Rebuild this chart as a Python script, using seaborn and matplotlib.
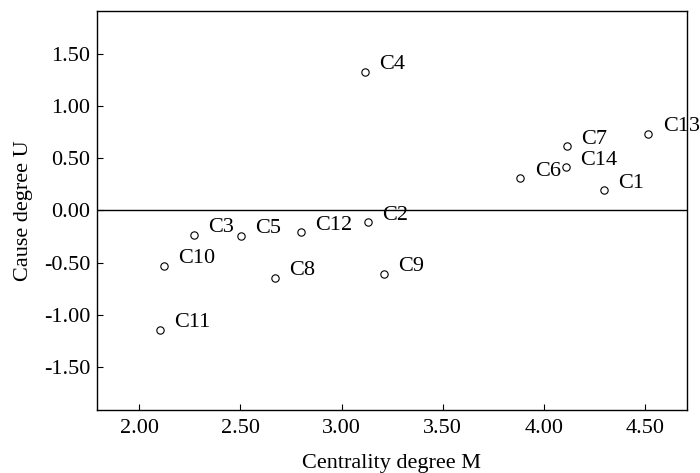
import matplotlib
matplotlib.use("Agg")
import matplotlib.pyplot as plt
import seaborn as sns
import pandas as pd

labels = ["C1", "C2", "C3", "C4", "C5", "C6", "C7", "C8", "C9", "C10", "C11", "C12", "C13", "C14"]
centrality = [4.297, 3.131, 2.270, 3.115, 2.501, 3.884, 4.115, 2.669, 3.209, 2.122, 2.102, 2.800, 4.517, 4.108]
cause = [0.194, -0.112, -0.236, 1.330, -0.242, 0.309, 0.614, -0.643, -0.605, -0.532, -1.140, -0.210, 0.735, 0.414]
xticks = [2.00, 2.50, 3.00, 3.50, 4.00, 4.50]
yticks = [-1.50, -1.00, -0.50, 0.00, 0.50, 1.00, 1.50]

sns.set_theme(style="ticks")
plt.rcParams["font.family"] = ["Liberation Serif", "DejaVu Serif"]

df = pd.DataFrame({"M": centrality, "U": cause, "label": labels})

fig = plt.figure(figsize=(7.0, 4.73), dpi=100)
ax = fig.add_axes([97 / 700, 1 - 410.5 / 473, (687 - 97) / 700, (410.5 - 11.5) / 473])

ax.axhline(0, color="black", lw=1.0, zorder=1)
sns.scatterplot(data=df, x="M", y="U", ax=ax, marker="o", s=28,
                facecolor="white", edgecolor="black", linewidth=0.8, zorder=3)

for lab, x, y in zip(labels, centrality, cause):
    ax.annotate(lab, (x, y), xytext=(10.3, 1.9), textcoords="offset points",
                fontsize=16, ha="left", va="baseline", color="black",
                annotation_clip=False)

ax.set_xlim(1.791, 4.708)
ax.set_ylim(-1.915, 1.905)
ax.set_xticks(xticks)
ax.set_xticklabels([f"{t:.2f}" for t in xticks])
ax.set_yticks(yticks)
ax.set_yticklabels([f"{t:.2f}" for t in yticks])
ax.tick_params(direction="in", length=4.5, width=0.8, labelsize=16, colors="black")
ax.tick_params(axis="y", pad=5)
ax.tick_params(axis="x", pad=6)

for s in ax.spines.values():
    s.set_visible(True)
    s.set_color("black")
    s.set_linewidth(1.0)

ax.set_xlabel("Centrality degree M", fontsize=16, color="black", labelpad=11.5)
ax.set_ylabel("Cause degree U", fontsize=16, color="black", labelpad=8)

fig.savefig("out.png", dpi=100)
